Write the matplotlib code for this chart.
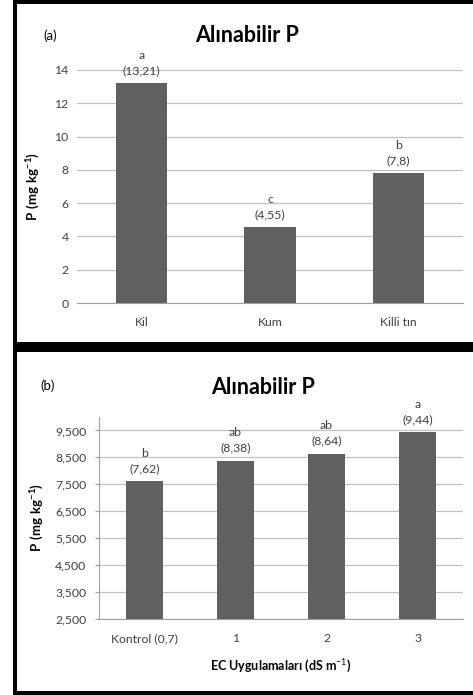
import matplotlib
matplotlib.use('Agg')
import matplotlib.pyplot as plt
from matplotlib.patches import Rectangle

plt.rcParams['font.family'] = ['Lato', 'DejaVu Sans']
plt.rcParams['mathtext.fontset'] = 'custom'
plt.rcParams['mathtext.rm'] = 'Lato'
plt.rcParams['mathtext.bf'] = 'Lato:bold'

# (a) soil texture
soil_cats = ['Kil', 'Kum', 'Killi tın']
soil_vals = [13.21, 4.55, 7.8]
soil_letters = ['a', 'c', 'b']
soil_ticks = [0, 2, 4, 6, 8, 10, 12, 14]

# (b) EC treatments
ec_cats = ['Kontrol (0,7)', '1', '2', '3']
ec_vals = [7.62, 8.38, 8.64, 9.44]
ec_letters = ['b', 'ab', 'ab', 'a']
ec_ticks = [2.5, 3.5, 4.5, 5.5, 6.5, 7.5, 8.5, 9.5]

W, H = 473, 695
BAR = '#606060'
GRID = '#c0c0c0'
TXT = '#404040'


def box(x0, y0, x1, y1):
    # pixel box (top-left origin) -> figure fraction
    return [x0 / W, 1 - y1 / H, (x1 - x0) / W, (y1 - y0) / H]


def lab(v):
    return '(' + str(v).replace('.', ',') + ')'


fig = plt.figure(figsize=(W / 100, H / 100), dpi=100)

# black frames
for r in [box(13, 0, 17, 695), box(13, 0, 473, 4), box(13, 342, 473, 352), box(13, 691, 473, 695)]:
    fig.add_artist(Rectangle((r[0], r[1]), r[2], r[3], transform=fig.transFigure,
                             facecolor='black', edgecolor='none'))

# ---- panel (a)
ax1 = fig.add_axes(box(77, 70, 463, 303))
x = range(len(soil_cats))
ax1.bar(x, soil_vals, width=0.4, color=BAR, zorder=3)
ax1.set_xlim(-0.5, len(soil_cats) - 0.5)
ax1.set_ylim(0, 14)
ax1.set_yticks(soil_ticks)
ax1.set_xticks(list(x))
ax1.set_xticklabels(soil_cats)
for i, v in enumerate(soil_vals):
    ax1.annotate(soil_letters[i] + '\n' + lab(v), (i, v), xytext=(0, 5),
                 textcoords='offset points', ha='center', va='bottom',
                 fontsize=8.8, color=TXT, linespacing=1.5)
ax1.set_ylabel('$\\mathbf{P\\ (mg\\ kg^{-1})}$', fontsize=9.5, color='black', labelpad=9)
fig.text(50 / W, 1 - 36 / H, '(a)', fontsize=9.5, ha='center', va='center')
fig.text(247 / W, 1 - 35 / H, 'Alınabilir P', fontsize=15.5, fontweight='bold',
         ha='center', va='center')

# ---- panel (b)
ax2 = fig.add_axes(box(99, 417, 463, 619))
x = range(len(ec_cats))
ax2.bar(x, ec_vals, width=0.4, color=BAR, zorder=3)
ax2.set_xlim(-0.5, len(ec_cats) - 0.5)
ax2.set_ylim(2.5, 10)
ax2.set_yticks(ec_ticks)
ax2.set_yticklabels([f'{t:.3f}'.replace('.', ',') for t in ec_ticks])
ax2.set_xticks(list(x))
ax2.set_xticklabels(ec_cats)
for i, v in enumerate(ec_vals):
    ax2.annotate(ec_letters[i] + '\n' + lab(v), (i, v), xytext=(0, 5),
                 textcoords='offset points', ha='center', va='bottom',
                 fontsize=8.8, color=TXT, linespacing=1.5)
ax2.set_ylabel('$\\mathbf{P\\ (mg\\ kg^{-1})}$', fontsize=9.5, color='black', labelpad=7)
ax2.set_xlabel('EC Uygulamaları (dS m$^{-1}$)', fontsize=9, fontweight='bold',
               color='black', labelpad=10)
fig.text(48 / W, 1 - 386 / H, '(b)', fontsize=9.5, ha='center', va='center')
fig.text(263 / W, 1 - 387 / H, 'Alınabilir P', fontsize=15.5, fontweight='bold',
         ha='center', va='center')

for ax, left in [(ax1, False), (ax2, True)]:
    ax.grid(axis='y', color=GRID, linewidth=0.9, zorder=0)
    ax.set_axisbelow(True)
    for s in ['top', 'right']:
        ax.spines[s].set_visible(False)
    ax.spines['bottom'].set_color('#a0a0a0')
    ax.spines['left'].set_color('#a0a0a0')
    ax.spines['left'].set_visible(left)
    ax.tick_params(axis='x', length=0, pad=10, labelsize=8.8, colors=TXT)
    ax.tick_params(axis='y', length=3 if left else 0, pad=6, labelsize=8.8,
                   colors='#a0a0a0', labelcolor=TXT)

fig.savefig('out.png', dpi=100)
